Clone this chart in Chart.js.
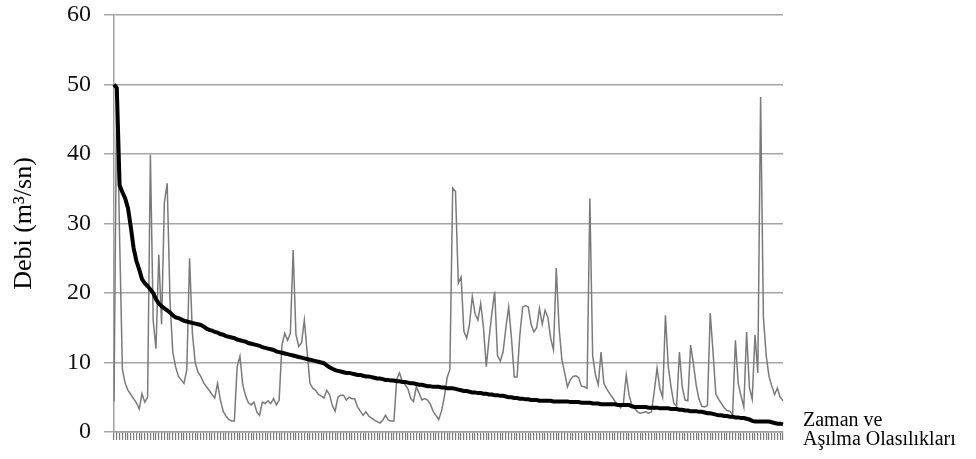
<!DOCTYPE html>
<html>
<head>
<meta charset="utf-8">
<script src="https://cdn.jsdelivr.net/npm/chart.js@4/dist/chart.umd.min.js"></script>
<style>
  html, body { margin: 0; padding: 0; background: #ffffff; }
  #wrap { width: 976px; height: 459px; position: relative; }
</style>
</head>
<body>
<div id="wrap"><canvas id="c" width="976" height="459"></canvas></div>
<script>
// Monthly discharge (m3/s), in time order
const monthlyFlow = [
  4.4, 50.0, 28.0, 9.0, 7.0, 6.0, 5.4, 4.8, 4.2, 3.3, 5.5, 4.3, 5.0,
  39.9, 16.0, 12.0, 25.5, 15.5, 33.0, 35.8, 19.0, 11.5, 9.4, 8.0, 7.5, 7.0, 8.9, 25.0, 14.2, 10.0,
  8.6, 8.0, 7.1, 6.5, 6.0, 5.4, 4.9, 7.0, 4.6, 3.0, 2.3, 1.8, 1.6, 1.6, 9.4, 10.9, 6.8, 5.2, 4.2, 3.9,
  4.3, 2.9, 2.4, 4.3, 4.1, 4.5, 4.1, 4.8, 3.9, 4.6, 12.5, 14.2, 13.2, 14.2, 26.2, 14.0, 12.3, 12.8, 16.1, 11.5,
  7.0, 6.3, 6.0, 5.4, 5.2, 4.9, 6.0, 5.4, 3.8, 3.0, 5.0, 5.3, 5.3, 4.6, 5.0, 4.8, 4.8, 3.6, 3.0, 2.4,
  2.9, 2.3, 2.0, 1.7, 1.5, 1.3, 1.7, 2.4, 1.7, 1.6, 1.6, 7.6, 8.5, 7.3, 6.8, 6.2, 4.8, 4.4, 6.5, 5.6,
  4.6, 4.8, 4.6, 4.0, 3.0, 2.4, 1.8, 3.0, 5.0, 7.8, 9.0, 35.1, 34.6, 21.4, 22.3, 14.5, 13.5, 15.5, 19.5, 17.0,
  16.1, 18.5, 15.0, 9.4, 13.5, 17.1, 20.2, 11.0, 10.2, 11.5, 15.0, 18.0, 13.5, 7.9, 7.9, 14.0, 18.0, 18.2, 18.0, 15.5,
  14.4, 15.0, 17.8, 15.5, 17.5, 16.5, 13.5, 11.8, 23.6, 15.0, 10.4, 8.5, 6.5, 7.5, 8.0, 8.1, 7.8, 6.6, 6.5, 6.3,
  33.6, 11.0, 8.2, 6.8, 11.5, 7.0, 6.2, 5.6, 5.0, 4.4, 3.9, 3.5, 4.2, 8.2, 5.3, 3.9, 3.4, 2.9, 2.7, 2.8,
  2.9, 2.7, 2.9, 5.8, 9.2, 6.3, 5.0, 16.8, 9.5, 6.5, 4.1, 3.7, 11.5, 6.5, 4.6, 4.5, 12.5, 9.8, 6.7, 4.7,
  3.7, 3.6, 3.8, 17.1, 11.5, 5.5, 4.7, 4.1, 3.5, 3.1, 3.0, 2.5, 13.2, 7.0, 5.2, 3.6, 14.4, 6.4, 4.7, 14.0,
  8.5, 48.2, 16.5, 11.0, 8.0, 6.6, 5.4, 6.3, 5.0, 4.5
];

// Flow duration curve (m3/s), ranked from highest to lowest
const durationCurve = [
  50.0, 49.5, 35.5, 34.5, 33.6, 32.2, 29.5, 26.5, 24.6, 23.4, 22.0, 21.4, 21.0, 20.5, 20.0, 19.1, 18.5, 18.1, 17.8, 17.5,
  17.2, 16.8, 16.5, 16.4, 16.2, 16.0, 15.9, 15.8, 15.7, 15.6, 15.5, 15.4, 15.2, 14.9, 14.7, 14.6, 14.4, 14.3, 14.1, 14.0,
  13.8, 13.7, 13.6, 13.5, 13.3, 13.2, 13.1, 13.0, 12.8, 12.7, 12.6, 12.5, 12.4, 12.2, 12.1, 12.0, 11.9, 11.8, 11.6, 11.5,
  11.4, 11.3, 11.2, 11.1, 11.0, 10.9, 10.8, 10.7, 10.6, 10.5, 10.4, 10.3, 10.2, 10.1, 10.0, 9.9, 9.6, 9.3, 9.1, 8.9,
  8.8, 8.7, 8.6, 8.5, 8.5, 8.4, 8.3, 8.2, 8.2, 8.1, 8.0, 8.0, 7.9, 7.8, 7.7, 7.7, 7.6, 7.5, 7.5, 7.4,
  7.4, 7.3, 7.3, 7.2, 7.2, 7.1, 7.0, 7.0, 6.9, 6.8, 6.8, 6.7, 6.6, 6.6, 6.5, 6.5, 6.5, 6.4, 6.4, 6.3,
  6.3, 6.3, 6.2, 6.1, 6.0, 5.9, 5.9, 5.8, 5.7, 5.7, 5.6, 5.6, 5.5, 5.5, 5.4, 5.4, 5.3, 5.3, 5.2, 5.2,
  5.1, 5.0, 5.0, 4.9, 4.9, 4.8, 4.8, 4.7, 4.7, 4.6, 4.6, 4.6, 4.5, 4.5, 4.5, 4.5, 4.5, 4.4, 4.4, 4.4,
  4.4, 4.4, 4.4, 4.3, 4.3, 4.3, 4.3, 4.2, 4.2, 4.2, 4.2, 4.1, 4.1, 4.1, 4.0, 4.0, 4.0, 4.0, 4.0, 4.0,
  3.9, 3.9, 3.9, 3.9, 3.9, 3.7, 3.6, 3.6, 3.6, 3.6, 3.6, 3.5, 3.5, 3.5, 3.5, 3.4, 3.4, 3.4, 3.4, 3.3,
  3.3, 3.3, 3.2, 3.2, 3.1, 3.1, 3.0, 3.0, 3.0, 2.9, 2.9, 2.8, 2.7, 2.7, 2.6, 2.5, 2.4, 2.4, 2.3, 2.3,
  2.2, 2.2, 2.1, 2.1, 2.0, 2.0, 1.9, 1.8, 1.6, 1.5, 1.5, 1.5, 1.5, 1.5, 1.5, 1.4, 1.3, 1.2, 1.2, 1.1
];

// One category per month
const periods = monthlyFlow.map((_, i) => String(i + 1));

const yAxisTitle = 'Debi (m³/sn)';
const xAxisCaption = ['Zaman ve', 'Aşılma Olasılıkları'];

const serif = '"Liberation Serif", "Times New Roman", serif';

// Two-line caption to the right of the category axis
const captionPlugin = {
  id: 'caption',
  afterDraw(chart) {
    const { ctx, chartArea } = chart;
    ctx.save();
    ctx.font = '20px ' + serif;
    ctx.fillStyle = '#000';
    ctx.textAlign = 'left';
    ctx.textBaseline = 'alphabetic';
    ctx.fillText(xAxisCaption[0], chartArea.right + 20, chartArea.bottom - 6);
    ctx.fillText(xAxisCaption[1], chartArea.right + 20, chartArea.bottom + 13);
    ctx.restore();
  }
};

new Chart(document.getElementById('c'), {
  type: 'line',
  data: {
    labels: periods,
    datasets: [
      {
        data: durationCurve,
        borderColor: '#000000',
        borderWidth: 4,
        pointRadius: 0,
        tension: 0,
        order: 0
      },
      {
        data: monthlyFlow,
        borderColor: '#7a7a7a',
        borderWidth: 1.5,
        pointRadius: 0,
        tension: 0,
        order: 1
      }
    ]
  },
  options: {
    responsive: false,
    animation: false,
    devicePixelRatio: 1,
    layout: { padding: { top: 15, right: 193, left: 0, bottom: 0 } },
    plugins: {
      legend: { display: false },
      tooltip: { enabled: false }
    },
    scales: {
      x: {
        type: 'category',
        offset: false,
        ticks: { display: false, autoSkip: false },
        grid: {
          display: true,
          drawOnChartArea: false,
          drawTicks: true,
          tickLength: 8,
          color: '#7c7c7c',
          lineWidth: 1.2
        },
        border: { display: true, color: '#a0a0a0', width: 1.5 },
        afterFit(scale) {
          scale.height = 27;
          scale.paddingLeft = 0;
          scale.paddingRight = 0;
        }
      },
      y: {
        min: 0,
        max: 60,
        ticks: {
          stepSize: 10,
          color: '#111',
          padding: 13,
          font: { family: serif, size: 24 }
        },
        grid: {
          color: '#a6a6a6',
          lineWidth: 1.5,
          tickLength: 10
        },
        border: { display: true, color: '#a0a0a0', width: 1.5 },
        title: {
          display: true,
          text: yAxisTitle,
          color: '#000',
          font: { family: serif, size: 26 },
          padding: { top: 9, bottom: 0 }
        },
        afterFit(scale) {
          scale.width = 114;
          scale.paddingTop = 0;
          scale.paddingBottom = 0;
        }
      }
    }
  },
  plugins: [captionPlugin]
});
</script>
</body>
</html>
